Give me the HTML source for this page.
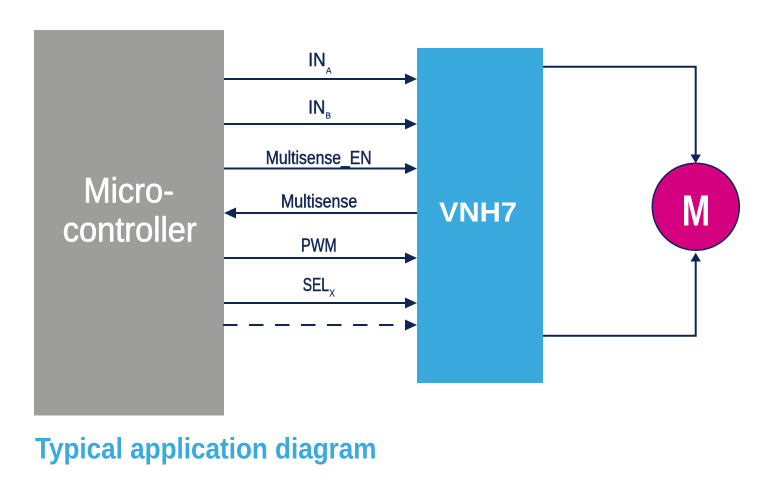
<!DOCTYPE html>
<html>
<head>
<meta charset="utf-8">
<style>
html,body{margin:0;padding:0;background:#ffffff;}
svg{display:block;}
text{font-family:"Liberation Sans",Arial,sans-serif;}
</style>
</head>
<body>
<svg width="763" height="485" viewBox="0 0 763 485" xmlns="http://www.w3.org/2000/svg">
  <rect x="0" y="0" width="763" height="485" fill="#ffffff"/>
  <!-- Microcontroller -->
  <rect x="34" y="30" width="190" height="385.5" fill="#9d9d9c"/>
  <g fill="#ffffff" stroke="#ffffff" stroke-width="0.6">
    <text x="83.5" y="202.7" font-size="35" textLength="90.5" lengthAdjust="spacingAndGlyphs">Micro-</text>
    <text x="62.7" y="241.7" font-size="35" textLength="134" lengthAdjust="spacingAndGlyphs">controller</text>
  </g>

  <!-- VNH7 -->
  <rect x="417" y="48" width="126" height="335" fill="#3aa9de"/>
  <text x="439" y="221.7" font-size="28" font-weight="bold" fill="#ffffff" textLength="78" lengthAdjust="spacingAndGlyphs">VNH7</text>

  <g stroke="#0f2556" stroke-width="2" fill="none">
    <line x1="224" y1="79" x2="407" y2="79"/>
    <line x1="224" y1="124" x2="407" y2="124"/>
    <line x1="224" y1="168.5" x2="407" y2="168.5"/>
    <line x1="234" y1="213" x2="417" y2="213"/>
    <line x1="224" y1="258" x2="407" y2="258"/>
    <line x1="224" y1="303" x2="407" y2="303"/>
    <line x1="223" y1="325" x2="398" y2="325" stroke-dasharray="14.5 11.5"/>
    <!-- motor connections -->
    <polyline points="543,66.7 695.7,66.7 695.7,155"/>
    <polyline points="543,335.7 695.7,335.7 695.7,260"/>
  </g>
  <g fill="#0f2556">
    <polygon points="405,73.5 417,79 405,84.5"/>
    <polygon points="405,118.5 417,124 405,129.5"/>
    <polygon points="405,163 417,168.5 405,174"/>
    <polygon points="236,207.5 224,213 236,218.5"/>
    <polygon points="405,252.5 417,258 405,263.5"/>
    <polygon points="405,297.5 417,303 405,308.5"/>
    <polygon points="405,319.5 417,325 405,330.5"/>
    <polygon points="690.5,154.5 700.9,154.5 695.7,163.3"/>
    <polygon points="690.5,261.5 700.9,261.5 695.7,252.7"/>
  </g>

  <!-- Motor -->
  <circle cx="695.8" cy="206.7" r="43.5" fill="#d5007f" stroke="#0f2556" stroke-width="1.5"/>
  <text x="681.7" y="225.7" font-size="44" font-weight="bold" fill="#ffffff" textLength="28.5" lengthAdjust="spacingAndGlyphs">M</text>

  <!-- Labels -->
  <g fill="#0f2556" stroke="#0f2556" stroke-width="0.45" font-size="18">
    <text x="308.3" y="66" textLength="17.4" lengthAdjust="spacingAndGlyphs">IN</text>
    <text x="326" y="73.3" font-size="8.5" stroke-width="0.2" textLength="5.5" lengthAdjust="spacingAndGlyphs">A</text>
    <text x="308.3" y="113.3" textLength="17" lengthAdjust="spacingAndGlyphs">IN</text>
    <text x="325.5" y="118.5" font-size="8.5" stroke-width="0.2" textLength="5.5" lengthAdjust="spacingAndGlyphs">B</text>
    <text x="265.7" y="164" textLength="106" lengthAdjust="spacingAndGlyphs">Multisense_EN</text>
    <text x="281" y="207.3" textLength="76.3" lengthAdjust="spacingAndGlyphs">Multisense</text>
    <text x="301" y="251.7" textLength="35.7" lengthAdjust="spacingAndGlyphs">PWM</text>
    <text x="302.7" y="291" textLength="26.3" lengthAdjust="spacingAndGlyphs">SEL</text>
    <text x="329.3" y="296.7" font-size="10" stroke-width="0.2" textLength="5.7" lengthAdjust="spacingAndGlyphs">X</text>
  </g>

  <!-- Caption -->
  <text x="35" y="458.3" font-size="29.5" font-weight="bold" fill="#3aa9de" textLength="341.5" lengthAdjust="spacingAndGlyphs">Typical application diagram</text>
</svg>
</body>
</html>
